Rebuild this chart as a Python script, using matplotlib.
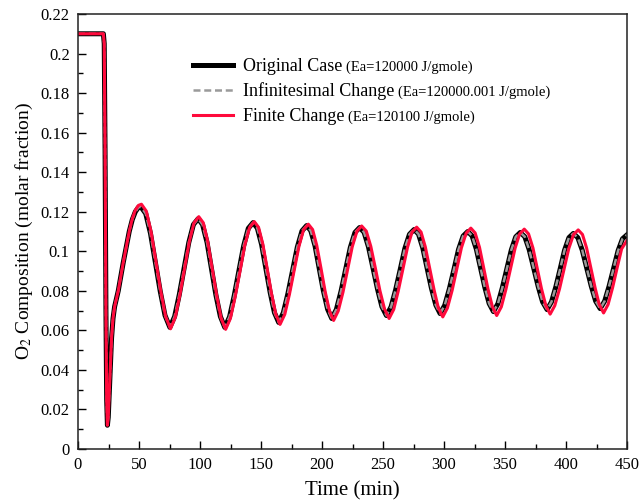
import numpy as np
import matplotlib
matplotlib.use('Agg')
import matplotlib.pyplot as plt
from matplotlib.ticker import MultipleLocator, FuncFormatter

plt.rcParams['font.family'] = ['Liberation Serif', 'DejaVu Serif']
plt.rcParams['mathtext.fontset'] = 'stix'

# Original case (Ea=120000); infinitesimal change overlaps it
t_orig = [0, 20.8, 21.5, 22.2, 22.9, 23.5, 24.1, 24.8, 25.6, 26.5, 27.5, 28.7, 30.0, 31.5, 33.0,
          35.0, 37.0, 39.5, 42.0, 44.5, 47.0, 49.5, 51.5,
          55.5, 59.4, 63.4, 67.4, 71.3, 75.3,
          79.2, 83.0, 86.9, 90.8, 94.6, 98.5,
          102.1, 105.8, 109.4, 113.0, 116.7, 120.3,
          124.2, 128.0, 131.9, 135.8, 139.6, 143.5,
          147.0, 150.5, 154.0, 157.5, 161.0, 164.5,
          168.3, 172.1, 176.0, 179.8, 183.6, 187.4,
          190.8, 194.3, 197.7, 201.1, 204.6, 208.0,
          211.8, 215.6, 219.4, 223.2, 227.0, 230.8,
          234.5, 238.1, 241.8, 245.5, 249.1, 252.8,
          256.6, 260.4, 264.2, 267.9, 271.7, 275.5,
          279.1, 282.6, 286.2, 289.7, 293.3, 296.8,
          300.6, 304.4, 308.2, 311.9, 315.7, 319.5,
          323.0, 326.5, 330.0, 333.5, 337.0, 340.5,
          344.2, 347.8, 351.5, 355.2, 358.8, 362.5,
          366.2, 369.8, 373.5, 377.2, 380.8, 384.5,
          388.1, 391.7, 395.3, 398.8, 402.4, 406.0,
          409.7, 413.3, 417.0, 420.7, 424.3, 428.0,
          431.7, 435.3, 439.0, 442.7, 446.3, 450.0]
o2_orig = [0.21, 0.21, 0.205, 0.15, 0.07, 0.025, 0.012, 0.016, 0.028, 0.042, 0.056, 0.066, 0.072, 0.076, 0.080,
           0.087, 0.094, 0.102, 0.110, 0.116, 0.1200, 0.1222, 0.1225,
           0.1191, 0.1091, 0.0944, 0.0798, 0.0676, 0.0615,
           0.0670, 0.0780, 0.0912, 0.1044, 0.1135, 0.1165,
           0.1135, 0.1044, 0.0912, 0.0780, 0.0670, 0.0615,
           0.0668, 0.0774, 0.0901, 0.1028, 0.1116, 0.1145,
           0.1117, 0.1034, 0.0913, 0.0792, 0.0690, 0.0640,
           0.0689, 0.0787, 0.0905, 0.1022, 0.1103, 0.1130,
           0.1104, 0.1027, 0.0914, 0.0801, 0.0707, 0.0660,
           0.0706, 0.0798, 0.0908, 0.1019, 0.1095, 0.1120,
           0.1096, 0.1022, 0.0915, 0.0809, 0.0720, 0.0675,
           0.0719, 0.0806, 0.0910, 0.1014, 0.1086, 0.1110,
           0.1087, 0.1017, 0.0914, 0.0813, 0.0728, 0.0685,
           0.0727, 0.0810, 0.0909, 0.1009, 0.1077, 0.1100,
           0.1078, 0.1011, 0.0914, 0.0817, 0.0736, 0.0695,
           0.0735, 0.0815, 0.0911, 0.1007, 0.1073, 0.1095,
           0.1074, 0.1009, 0.0916, 0.0822, 0.0744, 0.0705,
           0.0744, 0.0821, 0.0913, 0.1005, 0.1069, 0.1090,
           0.1069, 0.1006, 0.0915, 0.0824, 0.0748, 0.0710,
           0.0748, 0.0823, 0.0913, 0.1003, 0.1063, 0.1083]

# Finite change (Ea=120100)
t_fin = [0, 20.8, 21.5, 22.2, 22.9, 23.5, 24.1, 24.8, 25.6, 26.5, 27.5, 28.7, 30.0, 31.5, 33.0,
         35.0, 37.0, 39.5, 42.0, 44.5, 47.0, 49.5, 52.0,
         56.0, 59.9, 63.9, 67.9, 71.8, 75.8,
         79.7, 83.5, 87.4, 91.3, 95.1, 99.0,
         102.7, 106.3, 110.0, 113.7, 117.3, 121.0,
         124.9, 128.8, 132.8, 136.7, 140.6, 144.5,
         148.0, 151.5, 155.1, 158.6, 162.1, 165.6,
         169.5, 173.3, 177.2, 181.1, 184.9, 188.8,
         192.3, 195.7, 199.2, 202.6, 206.1, 209.5,
         213.3, 217.2, 221.0, 224.8, 228.7, 232.5,
         236.3, 240.0, 243.8, 247.5, 251.3, 255.0,
         258.8, 262.5, 266.3, 270.1, 273.8, 277.6,
         281.2, 284.7, 288.3, 291.9, 295.4, 299.0,
         302.8, 306.7, 310.5, 314.3, 318.2, 322.0,
         325.5, 329.1, 332.6, 336.1, 339.7, 343.2,
         347.0, 350.7, 354.5, 358.3, 362.0, 365.8,
         369.3, 372.9, 376.4, 379.9, 383.5, 387.0,
         390.8, 394.7, 398.5, 402.3, 406.2, 410.0,
         413.5, 416.9, 420.4, 423.9, 427.3, 430.8,
         434.5, 438.2, 441.9, 445.6, 450.0]
o2_fin = [0.21, 0.21, 0.205, 0.15, 0.07, 0.025, 0.012, 0.016, 0.028, 0.042, 0.056, 0.066, 0.072, 0.076, 0.080,
          0.087, 0.094, 0.102, 0.110, 0.1165, 0.1208, 0.1232, 0.1238,
          0.1203, 0.1099, 0.0948, 0.0797, 0.0671, 0.0608,
          0.0665, 0.0778, 0.0914, 0.1050, 0.1144, 0.1175,
          0.1144, 0.1050, 0.0913, 0.0776, 0.0662, 0.0605,
          0.0660, 0.0769, 0.0899, 0.1030, 0.1120, 0.1150,
          0.1121, 0.1036, 0.0911, 0.0786, 0.0682, 0.0630,
          0.0681, 0.0782, 0.0904, 0.1025, 0.1109, 0.1137,
          0.1110, 0.1030, 0.0913, 0.0796, 0.0699, 0.0650,
          0.0698, 0.0793, 0.0908, 0.1023, 0.1102, 0.1128,
          0.1102, 0.1025, 0.0913, 0.0800, 0.0707, 0.0660,
          0.0706, 0.0799, 0.0909, 0.1020, 0.1097, 0.1122,
          0.1097, 0.1022, 0.0913, 0.0804, 0.0713, 0.0668,
          0.0713, 0.0803, 0.0910, 0.1018, 0.1092, 0.1117,
          0.1093, 0.1020, 0.0914, 0.0808, 0.0719, 0.0675,
          0.0719, 0.0806, 0.0911, 0.1016, 0.1088, 0.1112,
          0.1088, 0.1017, 0.0914, 0.0811, 0.0725, 0.0682,
          0.0725, 0.0810, 0.0912, 0.1014, 0.1085, 0.1108,
          0.1085, 0.1016, 0.0915, 0.0814, 0.0730, 0.0688,
          0.0731, 0.0816, 0.0916, 0.1012, 0.1055]

labels = ['Original Case', 'Infinitesimal Change', 'Finite Change']
ea_notes = ['(Ea=120000 J/gmole)', '(Ea=120000.001 J/gmole)', '(Ea=120100 J/gmole)']

fig = plt.figure(figsize=(6.42, 5.03), dpi=100)
ax = fig.add_axes([78/642, 1-449/503, 549/642, 435/503])

ax.plot(t_orig, o2_orig, color='black', lw=3.6, label=labels[0], solid_joinstyle='round')
ax.plot(t_orig, o2_orig, color='#9a9a9a', lw=1.8, dashes=(2.8, 1.5), label=labels[1])
ax.plot(t_fin, o2_fin, color='#ff0a3c', lw=2.2, label=labels[2], solid_joinstyle='round')

ax.set_xlim(0, 450)
ax.set_ylim(0, 0.22)
ax.xaxis.set_major_locator(MultipleLocator(50))
ax.xaxis.set_minor_locator(MultipleLocator(25))
ax.yaxis.set_major_locator(MultipleLocator(0.02))
ax.yaxis.set_minor_locator(MultipleLocator(0.01))
ax.yaxis.set_major_formatter(FuncFormatter(lambda v, p: '%g' % round(v, 3)))
ax.tick_params(which='both', direction='in', top=False, right=False, labelsize=12, width=1)
ax.tick_params(which='major', length=6)
ax.tick_params(which='minor', length=3.5)
ax.tick_params(axis='x', which='major', pad=6)
ax.tick_params(axis='y', which='major', pad=6)
for s in ax.spines.values():
    s.set_linewidth(1.1)
    s.set_color('#222222')

ax.set_xlabel('Time (min)', fontsize=15, labelpad=5.5)
ax.set_ylabel('O$_2$ Composition (molar fraction)', fontsize=14, labelpad=4)

leg = ax.legend(loc='upper left', bbox_to_anchor=(193/642, 1-58/503), bbox_transform=fig.transFigure,
                frameon=False, fontsize=13, handlelength=2.2, handletextpad=0.55,
                labelspacing=0.42, borderpad=0, borderaxespad=0)

# smaller Ea note after each legend entry, placed once the legend is laid out
fig.canvas.draw()
inv = fig.transFigure.inverted()
for txt, note in zip(leg.get_texts(), ea_notes):
    bb = txt.get_window_extent()
    x0, y0 = inv.transform((bb.x1 + 4, bb.y0 + 1))
    fig.text(x0, y0, note, fontsize=10.5, va='bottom', ha='left')

fig.savefig('out.png', dpi=100)
